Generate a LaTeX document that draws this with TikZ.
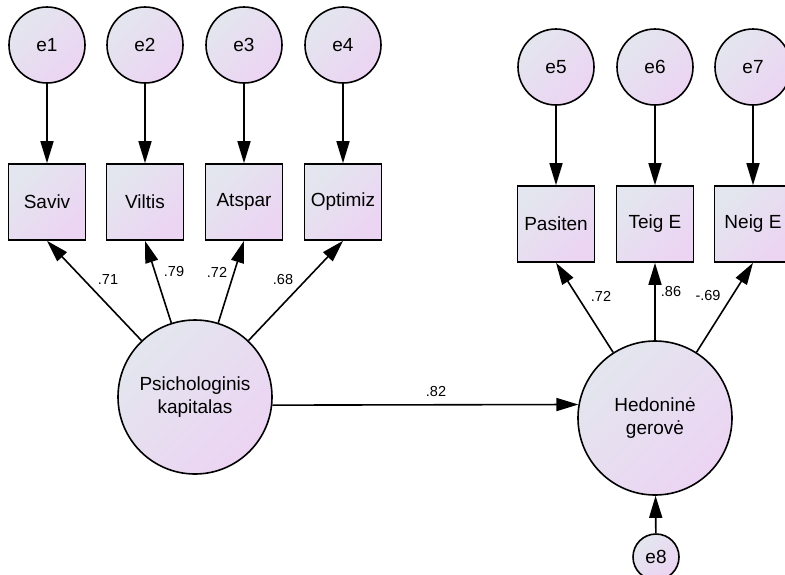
\documentclass[tikz,border=0pt]{standalone}
\usepackage{fontspec}
\setmainfont{Liberation Sans}
\usetikzlibrary{arrows.meta}
\definecolor{gA}{HTML}{E3E6EE}
\definecolor{gB}{HTML}{ECD4F3}
\tikzset{
  sfill/.style={top color=gA, bottom color=gB, shading angle=45},
  errc/.style={circle, draw=black, line width=1.6pt, sfill, minimum size=76pt, inner sep=0pt, font=\fontsize{19}{22}\selectfont},
  smallerr/.style={circle, draw=black, line width=1.6pt, sfill, minimum size=46pt, inner sep=0pt, font=\fontsize{19}{22}\selectfont},
  latent/.style={circle, draw=black, line width=1.6pt, sfill, minimum size=154pt, inner sep=0pt, align=center, font=\fontsize{19}{22.5}\selectfont},
  obs/.style={rectangle, draw=black, line width=1.6pt, sfill, minimum width=77pt, minimum height=76pt, inner sep=0pt, font=\fontsize{19}{22}\selectfont},
  conn/.style={line width=1.6pt, -{Triangle[length=22pt,width=13pt]}},
  coef/.style={inner sep=0pt, font=\fontsize{14.5}{16}\selectfont}
}
\begin{document}
\begin{tikzpicture}[x=1pt, y=-1pt]
\useasboundingbox (0,0) rectangle (785,574);
\begin{scope}
\clip (0,0) rectangle (785,574);
% error terms left
\node[errc] (e1) at (47,45) {e1};
\node[errc] (e2) at (145,45) {e2};
\node[errc] (e3) at (244,45) {e3};
\node[errc] (e4) at (343,45) {e4};
% indicators left
\node[obs] (saviv) at (47,202) {Saviv};
\node[obs] (viltis) at (145,202) {Viltis};
\node[obs] (atspar) at (244,202) {Atspar};
\node[obs] (optimiz) at (343,202) {Optimiz};
% error terms right
\node[errc] (e5) at (556,67) {e5};
\node[errc] (e6) at (655,67) {e6};
\node[errc] (e7) at (753,67) {e7};
% indicators right
\node[obs] (pasiten) at (556,224) {Pasiten};
\node[obs] (teig) at (655,224) {Teig E};
\node[obs] (neig) at (753,224) {Neig E};
% latent
\node[latent] (psi) at (195,397) {Psichologinis\\kapitalas};
\node[latent] (hed) at (655,418) {Hedoninė\\gerovė};
\node[smallerr] (e8) at (656,557) {e8};
% connectors
\draw[conn] (e1) -- (saviv);
\draw[conn] (e2) -- (viltis);
\draw[conn] (e3) -- (atspar);
\draw[conn] (e4) -- (optimiz);
\draw[conn] (e5) -- (pasiten);
\draw[conn] (e6) -- (teig);
\draw[conn] (e7) -- (neig);
\draw[conn] (psi) -- (saviv.south);
\draw[conn] (psi) -- (viltis.south);
\draw[conn] (psi) -- (atspar.south);
\draw[conn] (psi) -- (optimiz.south);
\draw[conn] (hed) -- (pasiten.south);
\draw[conn] (hed) -- (teig.south);
\draw[conn] (hed) -- (neig.south);
\draw[conn] (psi.-6) -- (hed.170.3);
\draw[conn] (e8) -- (hed);
% coefficients
\node[coef] (c1) at (108,280) {.71};
\node[coef] (c2) at (174,272) {.79};
\node[coef] (c3) at (217,272) {.72};
\node[coef] (c4) at (283,280) {.68};
\node[coef] (c5) at (601,296) {.72};
\node[coef] (c6) at (671,292) {.86};
\node[coef] (c7) at (708,296) {-.69};
\node[coef] (c8) at (436,392) {.82};
\end{scope}
\end{tikzpicture}
\end{document}
